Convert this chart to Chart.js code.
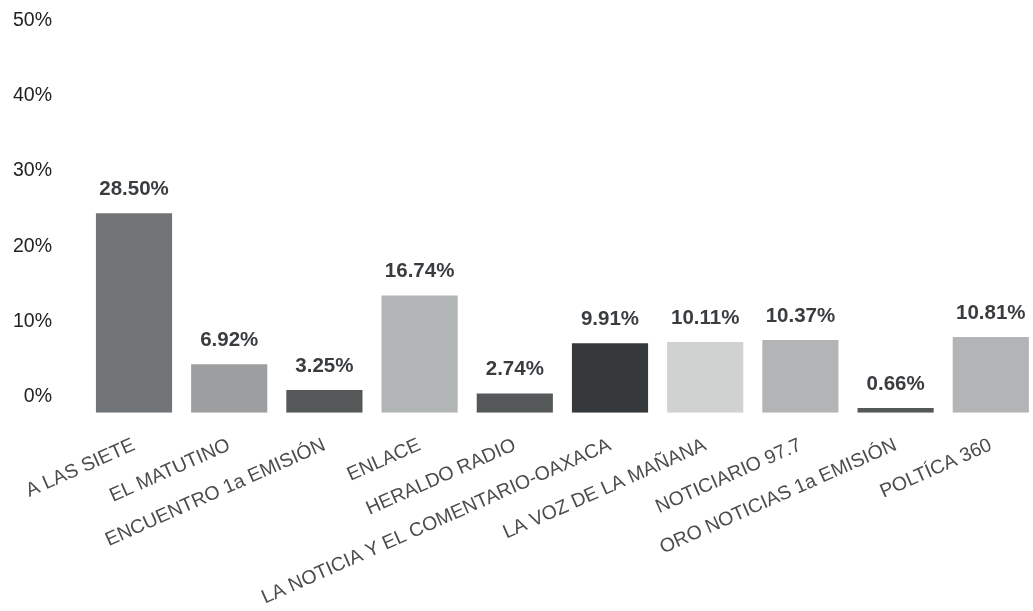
<!DOCTYPE html>
<html>
<head>
<meta charset="utf-8">
<script src="https://cdn.jsdelivr.net/npm/chart.js@4.4.0/dist/chart.umd.min.js"></script>
<style>
  html, body { margin: 0; padding: 0; background: #fff; overflow: hidden; }
  #wrap { width: 1040px; height: 611px; }
</style>
</head>
<body>
<div id="wrap"><canvas id="chart"></canvas></div>
<script>
var categories = ['A LAS SIETE', 'EL MATUTINO', 'ENCUENTRO 1a EMISIÓN', 'ENLACE', 'HERALDO RADIO',
  'LA NOTICIA Y EL COMENTARIO-OAXACA', 'LA VOZ DE LA MAÑANA', 'NOTICIARIO 97.7',
  'ORO NOTICIAS 1a EMISIÓN', 'POLTÍCA 360'];
var values = [28.50, 6.92, 3.25, 16.74, 2.74, 9.91, 10.11, 10.37, 0.66, 10.81];
var barColors = ['#727577', '#9c9e9f', '#555859', '#b2b5b6', '#555859',
  '#36393c', '#d0d1d1', '#b2b4b5', '#555859', '#b2b4b5'];
var yTicks = [0, 10, 20, 30, 40, 50];

var fontFamily = "'Liberation Sans', Arial, sans-serif";

// value labels above the bars
var valueLabels = {
  id: 'valueLabels',
  afterDatasetsDraw: function(chart) {
    var ctx = chart.ctx;
    var meta = chart.getDatasetMeta(0);
    ctx.save();
    ctx.font = 'bold 20.5px ' + fontFamily;
    ctx.fillStyle = '#3a3d40';
    ctx.textAlign = 'center';
    ctx.textBaseline = 'middle';
    meta.data.forEach(function(bar, i) {
      ctx.fillText(values[i].toFixed(2) + '%', bar.x, bar.y - 24);
    });
    ctx.restore();
  }
};

var ctx = document.getElementById('chart').getContext('2d');
var myChart = new Chart(ctx, {
  type: 'bar',
  data: {
    labels: categories,
    datasets: [{
      data: values,
      backgroundColor: barColors,
      borderWidth: 0,
      barPercentage: 0.8,
      categoryPercentage: 1.0
    }]
  },
  options: {
    responsive: true,
    maintainAspectRatio: false,
    animation: false,
    layout: { padding: { left: 0, right: 1.6, top: 20.7, bottom: 0 } },
    plugins: {
      legend: { display: false },
      tooltip: { enabled: false }
    },
    scales: {
      x: {
        grid: { display: false, drawTicks: false },
        border: { display: false },
        ticks: {
          autoSkip: false,
          minRotation: 24,
          maxRotation: 24,
          padding: 21,
          color: '#4a4c4e',
          font: { family: fontFamily, size: 19.5 }
        },
        afterFit: function(scale) {
          scale.height = 198.3;
          scale.paddingLeft = 0;
          scale.paddingRight = 0;
        }
      },
      y: {
        display: false,
        min: 0,
        max: 56
      },
      yt: {
        position: 'left',
        min: -2.13,
        max: 50,
        grid: { display: false, drawTicks: false },
        border: { display: false },
        afterBuildTicks: function(axis) {
          axis.ticks = yTicks.map(function(v) { return { value: v }; });
        },
        ticks: {
          padding: 34.4,
          color: '#222222',
          font: { family: fontFamily, size: 19.5 },
          callback: function(v) { return v + '%'; }
        },
        afterFit: function(scale) {
          scale.width = 86.4;
          scale.paddingTop = 0;
          scale.paddingBottom = 0;
        }
      }
    }
  },
  plugins: [valueLabels]
});
</script>
</body>
</html>
